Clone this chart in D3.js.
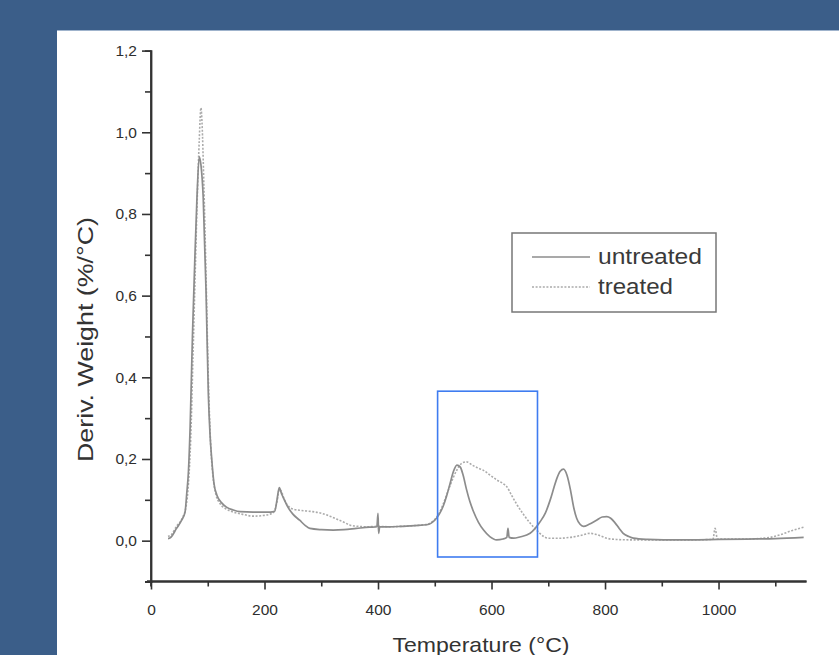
<!DOCTYPE html>
<html><head><meta charset="utf-8">
<script src="https://cdn.jsdelivr.net/npm/d3@7"></script>
<style>html,body{margin:0;padding:0;background:#3b5e89;}svg{display:block;}</style>
</head><body>
<svg id="c" width="839" height="655"></svg>
<script>
// ---- data ----
const untreatedT = [30,34,45,54,60,63,66,69,73,77,81,85,88,92,97,101,104,107,111,116,125,133,145,157,180,210,218,222,226,230,235,240,250,262,272,280,300,321,340,362,385,398,400,401,403,420,440,465,486,500,508,515,521,527,533,539,545,550,556,562,568,577,586,597,609,620,627,629,631,639,650,668,685,695,703,710,715,721,727,733,739,745,750,756,762,772,785,795,803,810,818,825,832,842,850,875,903,950,1000,1050,1100,1150];
const untreatedV = [0.005,0.007,0.03,0.05,0.07,0.116,0.17,0.28,0.5,0.68,0.84,0.94,0.92,0.84,0.61,0.36,0.26,0.2,0.14,0.112,0.092,0.082,0.075,0.071,0.07,0.07,0.072,0.1,0.13,0.115,0.1,0.085,0.065,0.05,0.037,0.03,0.027,0.026,0.027,0.03,0.033,0.034,0.067,0.018,0.034,0.034,0.035,0.037,0.039,0.05,0.065,0.085,0.11,0.14,0.17,0.185,0.18,0.16,0.125,0.095,0.072,0.045,0.026,0.01,0.002,0.004,0.008,0.03,0.008,0.006,0.009,0.018,0.045,0.068,0.098,0.13,0.152,0.17,0.175,0.16,0.125,0.08,0.055,0.04,0.035,0.04,0.05,0.058,0.059,0.055,0.043,0.03,0.018,0.01,0.006,0.003,0.002,0.002,0.003,0.004,0.005,0.008];
const treatedT = [30,36,45,55,62,66,70,74,78,82,85,88,90,93,97,101,105,109,114,122,132,145,160,180,200,215,222,226,230,235,242,251,265,285,300,315,327,340,351,365,380,400,420,440,465,486,500,508,515,527,539,548,556,566,576,586,598,609,620,627,635,644,656,668,678,685,692,700,720,738,755,774,785,795,803,820,844,900,950,990,994,998,1050,1090,1110,1130,1150];
const treatedV = [0.01,0.015,0.035,0.055,0.085,0.14,0.25,0.45,0.66,0.86,0.98,1.06,1.02,0.88,0.65,0.4,0.24,0.16,0.115,0.09,0.078,0.07,0.065,0.06,0.062,0.068,0.095,0.125,0.12,0.1,0.085,0.077,0.074,0.071,0.067,0.06,0.053,0.045,0.038,0.035,0.034,0.035,0.034,0.035,0.037,0.04,0.052,0.068,0.09,0.135,0.173,0.19,0.193,0.185,0.178,0.172,0.16,0.149,0.14,0.132,0.112,0.09,0.065,0.043,0.028,0.018,0.01,0.006,0.006,0.008,0.012,0.018,0.015,0.01,0.006,0.003,0.002,0.002,0.002,0.003,0.03,0.004,0.004,0.008,0.015,0.025,0.033];
const seriesNames = ["untreated","treated"];
const xMajorTicks = [0,200,400,600,800,1000];
const xMinorTicks = [100,300,500,700,900,1100];
const yMajorTicks = [0,0.2,0.4,0.6,0.8,1.0,1.2];
const yMinorTicks = [-0.1,0.1,0.3,0.5,0.7,0.9,1.1];
const xTitle = "Temperature (°C)";
const yTitle = "Deriv. Weight (%/°C)";
const highlightX = [505, 681];
const highlightY = [-0.04, 0.366];

// ---- drawing ----
const svg = d3.select("#c");
const font = "'Liberation Sans', Arial, sans-serif";
svg.append("rect").attr("width",839).attr("height",655).attr("fill","#3b5e89");
svg.append("rect").attr("x",57).attr("y",30).attr("width",782).attr("height",625).attr("fill","#ffffff");
svg.append("line").attr("x1",57).attr("x2",839).attr("y1",30.5).attr("y2",30.5).attr("stroke","#9fb3cc").attr("stroke-width",1);

const x = d3.scaleLinear().domain([0,1155]).range([151,806.5]);
const y = d3.scaleLinear().domain([-0.1,1.2]).range([581.5,50.6]);
const fmt = v => d3.format(".1f")(v).replace(".",",");
const axisColor = "#333";

// y axis
const gy = svg.append("g").attr("transform",`translate(${x(0)},0)`);
gy.call(d3.axisLeft(y).tickValues(yMajorTicks).tickSize(9).tickPadding(5).tickFormat(fmt));
gy.append("g").call(d3.axisLeft(y).tickValues(yMinorTicks).tickSize(6).tickFormat(""));
// x axis
const gx = svg.append("g").attr("transform",`translate(0,${y(-0.1)})`);
gx.call(d3.axisBottom(x).tickValues(xMajorTicks).tickSize(8).tickPadding(14).tickFormat(d3.format("d")));
gx.append("g").call(d3.axisBottom(x).tickValues(xMinorTicks).tickSize(5).tickFormat(""));
svg.selectAll(".domain").attr("stroke",axisColor).attr("stroke-width",1.8);
svg.selectAll(".tick line").attr("stroke",axisColor).attr("stroke-width",1.6);
svg.selectAll(".tick text").attr("font-family",font).attr("font-size",15.5).attr("fill","#2e2e2e");
gx.selectAll(".domain").attr("d",`M${x(0)-4},0H${x(1155)}`);
gy.selectAll(":scope > .domain").attr("d",`M0,${y(-0.1)+5}V${y(1.2)}`);

// titles
svg.append("text").attr("x",481).attr("y",652).attr("text-anchor","middle")
  .attr("font-family",font).attr("font-size",21).attr("fill","#333")
  .attr("textLength",177).attr("lengthAdjust","spacingAndGlyphs").text(xTitle);
svg.append("text").attr("transform","translate(93,339.5) rotate(-90)").attr("text-anchor","middle")
  .attr("font-family",font).attr("font-size",22).attr("fill","#333")
  .attr("textLength",245).attr("lengthAdjust","spacingAndGlyphs").text(yTitle);

// lines
const line = d3.line().x(d=>x(d[0])).y(d=>y(d[1])).curve(d3.curveMonotoneX);
const untreated = untreatedT.map((t,i)=>[t,untreatedV[i]]);
const treated = treatedT.map((t,i)=>[t,treatedV[i]]);
const styles = [
  {stroke:"#8c8c8c", width:1.7, dash:null},
  {stroke:"#ababab", width:1.6, dash:"2,1.6"}
];
svg.append("path").datum(treated).attr("d",line).attr("fill","none")
  .attr("stroke",styles[1].stroke).attr("stroke-width",styles[1].width).attr("stroke-dasharray",styles[1].dash);
svg.append("path").datum(untreated).attr("d",line).attr("fill","none")
  .attr("stroke",styles[0].stroke).attr("stroke-width",styles[0].width);

// legend
const lg = svg.append("g");
lg.append("rect").attr("x",512).attr("y",233).attr("width",204).attr("height",79)
  .attr("fill","#fff").attr("stroke","#777").attr("stroke-width",1.5);
seriesNames.forEach((n,i)=>{
  const yy = 257 + i*30;
  lg.append("line").attr("x1",532).attr("x2",590).attr("y1",yy).attr("y2",yy)
    .attr("stroke",styles[i].stroke).attr("stroke-width",styles[i].width).attr("stroke-dasharray",styles[i].dash);
  lg.append("text").attr("x",598).attr("y",yy+7).attr("font-family",font).attr("font-size",22)
    .attr("fill","#3a3a3a").attr("textLength", i===0?104:75).attr("lengthAdjust","spacingAndGlyphs").text(n);
});

// highlight box
svg.append("rect").attr("x",x(highlightX[0])).attr("y",y(highlightY[1]))
  .attr("width",x(highlightX[1])-x(highlightX[0])).attr("height",y(highlightY[0])-y(highlightY[1]))
  .attr("fill","none").attr("stroke","#3f7cf0").attr("stroke-width",1.6);
</script>
</body></html>
